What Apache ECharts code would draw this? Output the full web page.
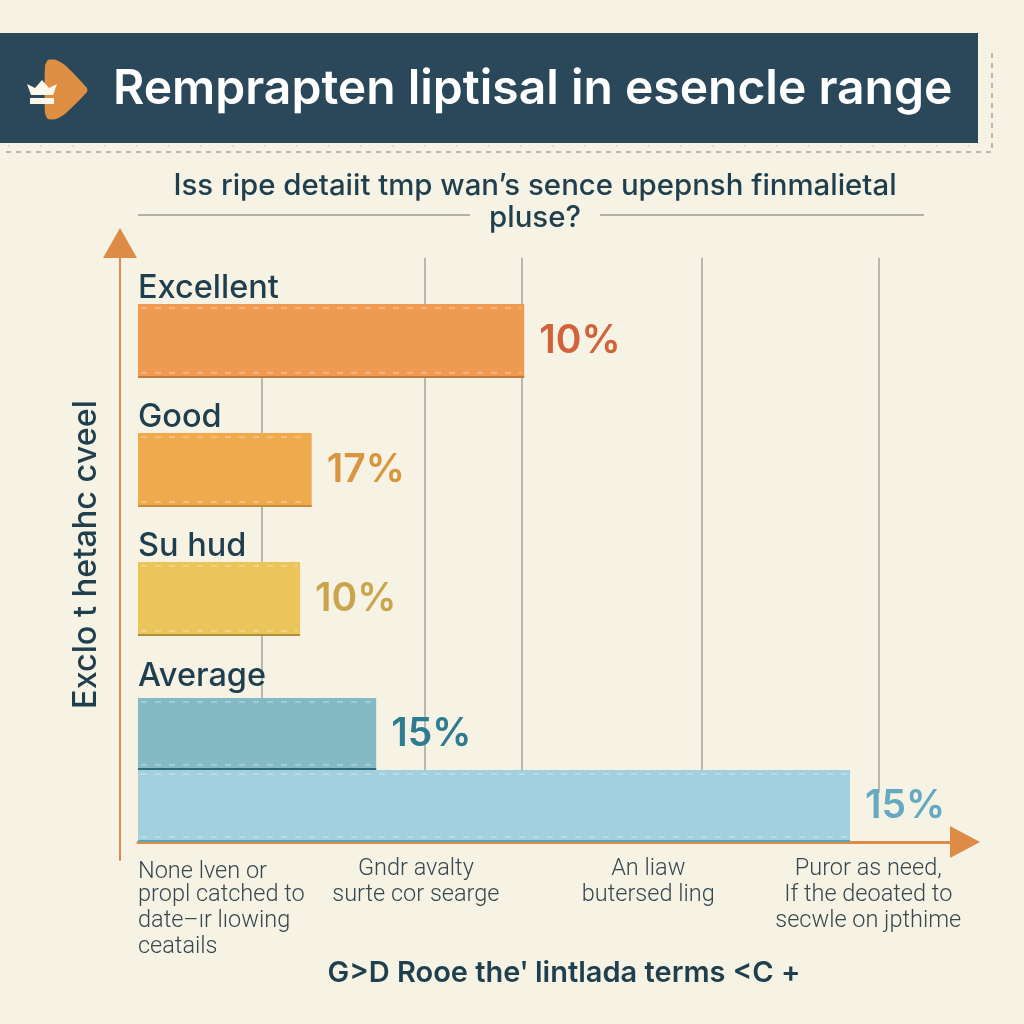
<!DOCTYPE html>
<html>
<head>
<meta charset="utf-8">
<style>
  html, body { margin: 0; padding: 0; background: #f6f3e4; }
  #chart { width: 1024px; height: 1024px; }
</style>
<script src="https://cdn.jsdelivr.net/npm/echarts@6/dist/echarts.min.js"></script>
</head>
<body>
<div id="chart"></div>
<script>
const upperCategories = ["Excellent", "Good", "Su hud"];
const lowerCategories = ["Average", ""];
const upperLengths = [46.7, 21.0, 19.6];
const lowerLengths = [28.8, 86.1];
const upperLabels = ["10%", "17%", "10%"];
const lowerLabels = ["15%", "15%"];
const gridLineValues = [15, 34.7, 46.4, 68.2, 89.6];
const xTickValues = [0, 33.6, 61.7, 88.3];
const xTickLabels = [
  "{lead|None lven or}\npropl catched to\ndate\u2013ır lıowing\nceatails",
  "Gndr avalty\nsurte cor searge",
  "An liaw\nbutersed ling",
  "Puror as need,\nIf the deoated to\nsecwle on jpthime",
];

const FONT = "Inter";
const INK = "#1f3f4f";
const ORANGE = "#dc8c47";

// bar fill, bottom edge, label colour
const upperStyles = [
  ["#ef9a52", "#c67a3c", "#d2623a"],
  ["#efaa4d", "#c98a3c", "#d9963f"],
  ["#ebc55a", "#b08f3c", "#c9a64c"],
];
const lowerStyles = [
  ["#84bac3", "#2f6a78", "#2f7c92"],
  ["#a2d0df", "#5fa3b6", "#66a9c2"],
];

function barSeries(xIdx, values, labels, styles, thickness) {
  return {
    type: "bar",
    xAxisIndex: xIdx,
    yAxisIndex: xIdx,
    barWidth: thickness,
    z: 3,
    data: values.map((v, i) => ({
      value: v,
      itemStyle: { color: styles[i][0] },
      label: { color: styles[i][2] },
    })),
    label: {
      show: true,
      position: "right",
      distance: 15,
      padding: [14, 0, 0, 0],
      fontFamily: FONT,
      fontWeight: 600,
      fontSize: 39,
      formatter: (p) => labels[p.dataIndex],
    },
  };
}

// stitched dashes, darker bottom edge and the category name above each bar
function stitchSeries(xIdx, values, cats, styles, thickness, nameGap) {
  return {
    type: "custom",
    xAxisIndex: xIdx,
    yAxisIndex: xIdx,
    silent: true,
    z: 4,
    encode: { x: 0, y: 1 },
    data: values.map((v, i) => [v, cats[i]]),
    renderItem: (params, api) => {
      const end = api.coord([api.value(0), api.value(1)]);
      const start = api.coord([0, api.value(1)]);
      const top = end[1] - thickness / 2;
      const bottom = end[1] + thickness / 2;
      const dash = { stroke: "rgba(255,255,255,0.36)", lineWidth: 1.5, lineDash: [6, 8] };
      const line = (y, style) => ({
        type: "line",
        shape: { x1: start[0] + 3, y1: y, x2: end[0] - 3, y2: y },
        style: style,
      });
      return {
        type: "group",
        children: [
          line(top + 4, dash),
          line(bottom - 5, dash),
          {
            type: "rect",
            shape: { x: start[0], y: bottom - 2, width: end[0] - start[0], height: 2 },
            style: { fill: styles[params.dataIndex][1] },
          },
          {
            type: "text",
            x: start[0],
            y: top - nameGap,
            style: {
              text: cats[params.dataIndex],
              fill: INK,
              font: "500 32.5px " + FONT,
              verticalAlign: "middle",
            },
          },
        ],
      };
    },
  };
}

const xBase = { type: "value", min: 0, max: 100, show: false };
const hiddenCategory = (gridIndex, data) => ({
  type: "category",
  gridIndex: gridIndex,
  inverse: true,
  data: data,
  axisLine: { show: false },
  axisTick: { show: false },
  axisLabel: { show: false },
});

const option = {
  backgroundColor: "#f6f3e4",
  animation: false,
  title: [
    {
      text: "Remprapten liptisal in esencle range",
      left: 108,
      top: 61,
      textStyle: { color: "#ffffff", fontFamily: FONT, fontWeight: 600, fontSize: 48 },
    },
    {
      text: "Iss ripe detaiit tmp wan\u2019s sence upepnsh finmalietal\npluse?",
      left: 530,
      top: 165,
      textAlign: "center",
      textStyle: { color: INK, fontFamily: FONT, fontWeight: 500, fontSize: 29.4, lineHeight: 32 },
    },
    {
      text: "G>D Rooe the\u02b9 lintlada terms <C +",
      left: 559,
      top: 954,
      textAlign: "center",
      textStyle: { color: INK, fontFamily: FONT, fontWeight: 600, fontSize: 29 },
    },
  ],
  grid: [
    { left: 138, width: 827, top: 276.5, height: 387 },
    { left: 138, width: 827, top: 698, height: 144 },
    { left: 138, width: 827, top: 243, height: 617 },
  ],
  xAxis: [
    { ...xBase, gridIndex: 0 },
    {
      type: "value",
      gridIndex: 1,
      min: 0,
      max: 100,
      splitLine: { show: false },
      axisTick: { show: false },
      axisLine: {
        show: true,
        onZero: false,
        symbol: ["none", "triangle"],
        symbolSize: [32, 30],
        lineStyle: { color: ORANGE, width: 3 },
      },
      axisLabel: {
        customValues: xTickValues,
        alignMinLabel: "left",
        verticalAlign: "top",
        margin: 14,
        color: "#37474f",
        fontFamily: "Roboto",
        fontWeight: 300,
        fontSize: 23.5,
        lineHeight: 26,
        formatter: (v) => xTickLabels[xTickValues.indexOf(v)],
        rich: {
          lead: {
            padding: [6, 0, 0, 0],
            color: "#37474f",
            fontFamily: "Roboto",
            fontWeight: 300,
            fontSize: 23.5,
            lineHeight: 26,
          },
        },
      },
    },
    { ...xBase, gridIndex: 2 },
  ],
  yAxis: [
    hiddenCategory(0, upperCategories),
    hiddenCategory(1, lowerCategories),
    {
      type: "value",
      gridIndex: 2,
      min: 0,
      max: 100,
      offset: 18,
      name: "Exclo t hetahc cveel",
      nameLocation: "middle",
      nameRotate: 90,
      nameGap: 18,
      nameTextStyle: {
        color: INK,
        fontFamily: FONT,
        fontWeight: 500,
        fontSize: 32.4,
        padding: [0, 6, 0, 0],
      },
      splitLine: { show: false },
      axisTick: { show: false },
      axisLabel: { show: false },
      axisLine: {
        show: true,
        onZero: false,
        symbol: ["none", "triangle"],
        symbolSize: [34, 30],
        lineStyle: { color: ORANGE, width: 2 },
      },
    },
  ],
  series: [
    {
      type: "scatter",
      xAxisIndex: 2,
      yAxisIndex: 2,
      data: [],
      z: 1,
      markLine: {
        silent: true,
        z: 1,
        symbol: "none",
        label: { show: false },
        lineStyle: { color: "#a5a59c", width: 1.5, type: "solid" },
        data: gridLineValues.map((v, i) => [
          { coord: [v, i === 0 ? 78.1 : 97.6] },
          { coord: [v, i === 4 ? 10.9 : 2.9] },
        ]),
      },
    },
    barSeries(0, upperLengths, upperLabels, upperStyles, 74),
    barSeries(1, lowerLengths, lowerLabels, lowerStyles, 72),
    stitchSeries(0, upperLengths, upperCategories, upperStyles, 74, 16),
    stitchSeries(1, lowerLengths, lowerCategories, lowerStyles, 72, 22),
  ],
  graphic: [
    { type: "rect", z: 0, shape: { x: 0, y: 33, width: 978, height: 110 }, style: { fill: "#2a4859" } },
    {
      type: "polyline",
      z: 0,
      shape: { points: [[6, 152], [992, 152], [992, 48]] },
      style: { fill: null, stroke: "#a3a79e", lineWidth: 1.5, lineDash: [5, 5] },
    },
    {
      type: "line",
      z: 0,
      shape: { x1: 8, y1: 146, x2: 980, y2: 146 },
      style: { stroke: "#c9cabf", lineWidth: 1, lineDash: [2, 30] },
    },
    // header badge
    {
      type: "polygon",
      z: 1,
      shape: {
        smooth: 0.2,
        points: [[45, 66], [48, 60], [56, 60], [65, 65], [87, 88], [87, 92], [65, 114], [56, 119], [48, 119], [45, 113]],
      },
      style: { fill: "#de8f44" },
    },
    {
      type: "polygon",
      z: 1,
      shape: { points: [[27, 84], [35, 88], [42, 80], [49, 88], [57, 84], [53, 95], [31, 95]] },
      style: { fill: "#fbf6ea" },
    },
    { type: "rect", z: 1, shape: { x: 30, y: 98, width: 24, height: 6 }, style: { fill: "#fbf6ea" } },
    // rules either side of the subtitle's second line
    { type: "line", z: 0, shape: { x1: 138, y1: 215, x2: 470, y2: 215 }, style: { stroke: "#9b9d92", lineWidth: 1.5 } },
    { type: "line", z: 0, shape: { x1: 600, y1: 215, x2: 924, y2: 215 }, style: { stroke: "#9b9d92", lineWidth: 1.5 } },
  ],
};

const chart = echarts.init(document.getElementById("chart"), null, { renderer: "canvas" });
chart.setOption(option);
window.addEventListener("resize", () => chart.resize());
</script>
</body>
</html>
